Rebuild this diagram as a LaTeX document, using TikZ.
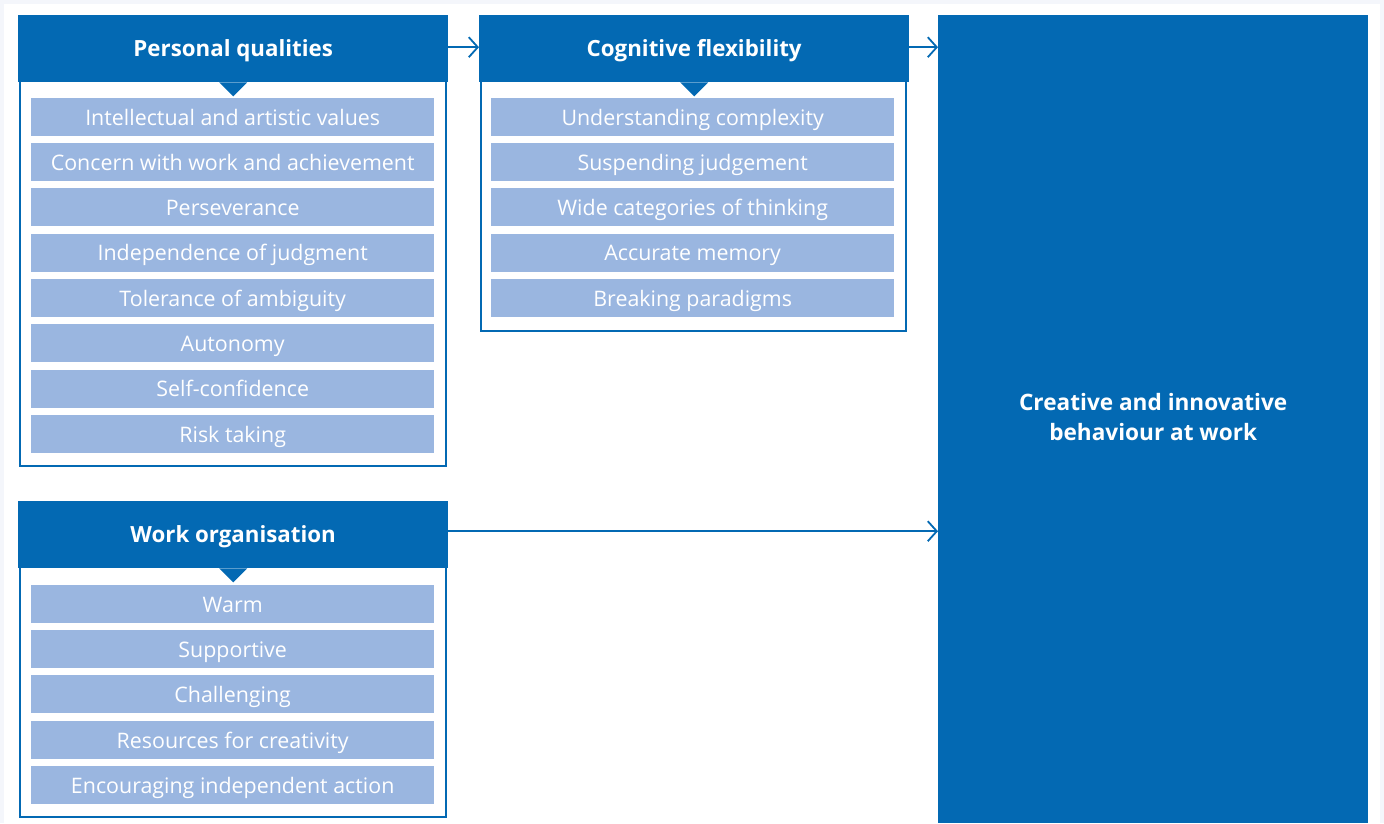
\documentclass[tikz,border=0pt]{standalone}
\usepackage{fontspec}
\setmainfont{Open Sans}
\usetikzlibrary{arrows.meta}
\definecolor{dblue}{HTML}{0369B3}
\definecolor{lblue}{HTML}{9AB6E0}
\definecolor{pale}{HTML}{F4F6FB}
\tikzset{
  headbox/.style={fill=dblue, text=white, font=\bfseries\fontsize{22.3}{26}\selectfont,
    minimum width=430pt, minimum height=67pt, inner sep=0pt, anchor=north west,
    text height=18pt, text depth=2pt},
  itembox/.style={fill=lblue, text=white, font=\fontsize{21.4}{24}\selectfont,
    minimum width=403pt, minimum height=38pt, inner sep=0pt, anchor=north west,
    text height=17.5pt, text depth=1.5pt},
  framebox/.style={draw=dblue, line width=2.5pt},
  pointer/.style={fill=dblue},
  flowarrow/.style={draw=dblue, line width=1.8pt, -{Straight Barb[length=9pt,width=20pt,line width=1.8pt]}},
  bigbox/.style={fill=dblue, text=white, font=\bfseries\fontsize{22.6}{29}\selectfont,
    align=center, minimum width=430pt, minimum height=808pt, inner sep=0pt, anchor=north west}
}
\begin{document}
\begin{tikzpicture}[x=1pt,y=-1pt]
\useasboundingbox (0,0) rectangle (1384,823);
\fill[pale] (0,0) rectangle (1384,823);
\fill[white] (4,4) rectangle (1380,823);

% frames
\draw[framebox] (20,70) rectangle (446,466);
\draw[framebox] (481,70) rectangle (906,331);
\draw[framebox] (20,556) rectangle (446,817);

% headers
\node[headbox] (pq) at (18,15) {Personal qualities};
\node[headbox] (cf) at (479,15) {Cognitive flexibility};
\node[headbox] (wo) at (18,501) {Work organisation};
\node[bigbox] (cb) at (938,15) {\raisebox{3pt}{\begin{tabular}{@{}c@{}}Creative and innovative\\[1pt]behaviour at work\end{tabular}}};

% pointers
\fill[pointer] ([xshift=-14pt]pq.south) -- ([xshift=14pt]pq.south) -- ([yshift=-14pt]pq.south) -- cycle;
\fill[pointer] ([xshift=-14pt]cf.south) -- ([xshift=14pt]cf.south) -- ([yshift=-14pt]cf.south) -- cycle;
\fill[pointer] ([xshift=-14pt]wo.south) -- ([xshift=14pt]wo.south) -- ([yshift=-14pt]wo.south) -- cycle;

% personal qualities items
\node[itembox] (pq1) at (31,98) {Intellectual and artistic values};
\node[itembox] (pq2) at (31,143) {Concern with work and achievement};
\node[itembox] (pq3) at (31,188) {Perseverance};
\node[itembox] (pq4) at (31,233.5) {Independence of judgment};
\node[itembox] (pq5) at (31,279) {Tolerance of ambiguity};
\node[itembox] (pq6) at (31,324) {Autonomy};
\node[itembox] (pq7) at (31,369.5) {Self-confidence};
\node[itembox] (pq8) at (31,415) {Risk taking};

% cognitive flexibility items
\node[itembox] (cf1) at (491,98) {Understanding complexity};
\node[itembox] (cf2) at (491,143) {Suspending judgement};
\node[itembox] (cf3) at (491,188) {Wide categories of thinking};
\node[itembox] (cf4) at (491,233.5) {Accurate memory};
\node[itembox] (cf5) at (491,279) {Breaking paradigms};

% work organisation items
\node[itembox] (wo1) at (31,585) {Warm};
\node[itembox] (wo2) at (31,630) {Supportive};
\node[itembox] (wo3) at (31,675) {Challenging};
\node[itembox] (wo4) at (31,721) {Resources for creativity};
\node[itembox] (wo5) at (31,766) {Encouraging independent action};

% arrows
\draw[flowarrow] ([yshift=1.5pt]pq.east) -- ([yshift=1.5pt]cf.west);
\draw[flowarrow] ([yshift=1.5pt]cf.east) -- ([yshift=1.5pt]cf.east -| cb.west);
\draw[flowarrow] ([yshift=3.5pt]wo.east) -- ([yshift=3.5pt]wo.east -| cb.west);
\end{tikzpicture}
\end{document}
